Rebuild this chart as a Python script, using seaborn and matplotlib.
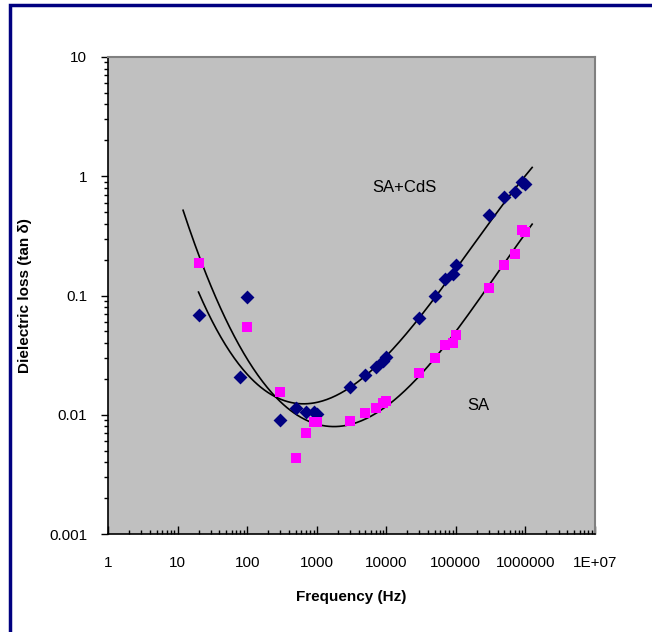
import numpy as np
import pandas as pd
import matplotlib
matplotlib.use("Agg")
import matplotlib.pyplot as plt
import matplotlib.ticker as mticker
from matplotlib.patches import Rectangle
import seaborn as sns

# SA+CdS (diamonds)
freq_cds = [20, 80, 100, 300, 500, 700, 900, 1000, 3000, 5000, 7000, 9000, 10000,
            30000, 50000, 70000, 90000, 100000, 300000, 500000, 700000, 900000, 1000000]
loss_cds = [0.069, 0.0208, 0.097, 0.0091, 0.0114, 0.0106, 0.0105, 0.0102, 0.0171, 0.0216,
            0.0252, 0.0283, 0.0306, 0.065, 0.099, 0.138, 0.152, 0.181, 0.474, 0.67,
            0.738, 0.896, 0.861]

# SA (squares)
freq_sa = [20, 100, 300, 500, 700, 900, 1000, 3000, 5000, 7000, 9000, 10000,
           30000, 50000, 70000, 90000, 100000, 300000, 500000, 700000, 900000, 1000000]
loss_sa = [0.187, 0.0546, 0.0156, 0.00436, 0.00705, 0.00873, 0.0087, 0.0089, 0.0104,
           0.0114, 0.0126, 0.0131, 0.0224, 0.030, 0.0386, 0.040, 0.0468, 0.116, 0.181,
           0.223, 0.355, 0.341]

x_ticks = [1, 10, 100, 1000, 10000, 100000, 1000000, 10000000]
x_labels = ["1", "10", "100", "1000", "10000", "100000", "1000000", "1E+07"]
y_ticks = [0.001, 0.01, 0.1, 1, 10]
y_labels = ["0.001", "0.01", "0.1", "1", "10"]

# trendline ranges (Hz) and polynomial order
fit_range_cds = (20, 1250000)
fit_range_sa = (12, 1250000)
order_cds = 3
order_sa = 4


def trend(f, v, lo, hi, deg):
    # polynomial trend fitted in log-log space
    p = np.polyfit(np.log10(f), np.log10(v), deg)
    xx = np.linspace(np.log10(lo), np.log10(hi), 300)
    return pd.DataFrame({"f": 10 ** xx, "v": 10 ** np.polyval(p, xx)})


plt.rcParams['font.family'] = ['Liberation Sans', 'DejaVu Sans']
fig = plt.figure(figsize=(6.52, 6.32), dpi=100)
ax = fig.add_axes([108 / 652, 1 - 534 / 632, (595 - 108) / 652, (534 - 57) / 632])
ax.set_facecolor("#C0C0C0")

df_cds = pd.DataFrame({"f": freq_cds, "v": loss_cds})
df_sa = pd.DataFrame({"f": freq_sa, "v": loss_sa})

t_cds = trend(freq_cds, loss_cds, *fit_range_cds, order_cds)
t_sa = trend(freq_sa, loss_sa, *fit_range_sa, order_sa)
sns.lineplot(data=t_cds, x="f", y="v", color="black", lw=1.2, ax=ax, sort=False)
sns.lineplot(data=t_sa, x="f", y="v", color="black", lw=1.2, ax=ax, sort=False)

sns.scatterplot(data=df_cds, x="f", y="v", marker="D", s=50, color="#000080",
                edgecolor="#000080", linewidth=0, ax=ax, zorder=3)
sns.scatterplot(data=df_sa, x="f", y="v", marker="s", s=55, color="#FF00FF",
                edgecolor="#FF00FF", linewidth=0, ax=ax, zorder=3)

ax.set_xscale("log")
ax.set_yscale("log")
ax.set_xlim(1, 1e7)
ax.set_ylim(0.001, 10)
ax.set_xticks(x_ticks)
ax.set_xticklabels(x_labels)
ax.set_yticks(y_ticks)
ax.set_yticklabels(y_labels)
ax.xaxis.set_minor_locator(mticker.LogLocator(base=10, subs=np.arange(2, 10)))
ax.yaxis.set_minor_locator(mticker.LogLocator(base=10, subs=np.arange(2, 10)))
ax.xaxis.set_minor_formatter(mticker.NullFormatter())
ax.yaxis.set_minor_formatter(mticker.NullFormatter())
ax.tick_params(axis="x", which="major", direction="in", length=6, width=1, labelsize=11, pad=16)
ax.tick_params(axis="x", which="minor", direction="in", length=3, width=1)
ax.tick_params(axis="y", which="major", direction="out", length=5, width=1, labelsize=11, pad=10)
ax.tick_params(axis="y", which="minor", direction="out", length=3, width=1)

for s in ["left", "bottom"]:
    ax.spines[s].set_color("black")
    ax.spines[s].set_linewidth(1.2)
for s in ["top", "right"]:
    ax.spines[s].set_color("#808080")
    ax.spines[s].set_linewidth(1.5)

ax.set_xlabel("Frequency (Hz)", fontsize=11, fontweight="bold", labelpad=14)
ax.set_ylabel("Dielectric loss (tan δ)", fontsize=11, fontweight="bold", labelpad=12)

ax.text(18000, 0.81, "SA+CdS", fontsize=12, ha="center", va="center")
ax.text(210000, 0.0119, "SA", fontsize=12, ha="center", va="center")

# outer navy frame (cut off at the right and bottom)
fig.patches.append(Rectangle((10 / 652, -0.05), 1.1, 1 - 5 / 632 + 0.05,
                             transform=fig.transFigure, fill=False,
                             edgecolor="#000080", lw=2.5, clip_on=False))

fig.savefig("out.png", dpi=100)
